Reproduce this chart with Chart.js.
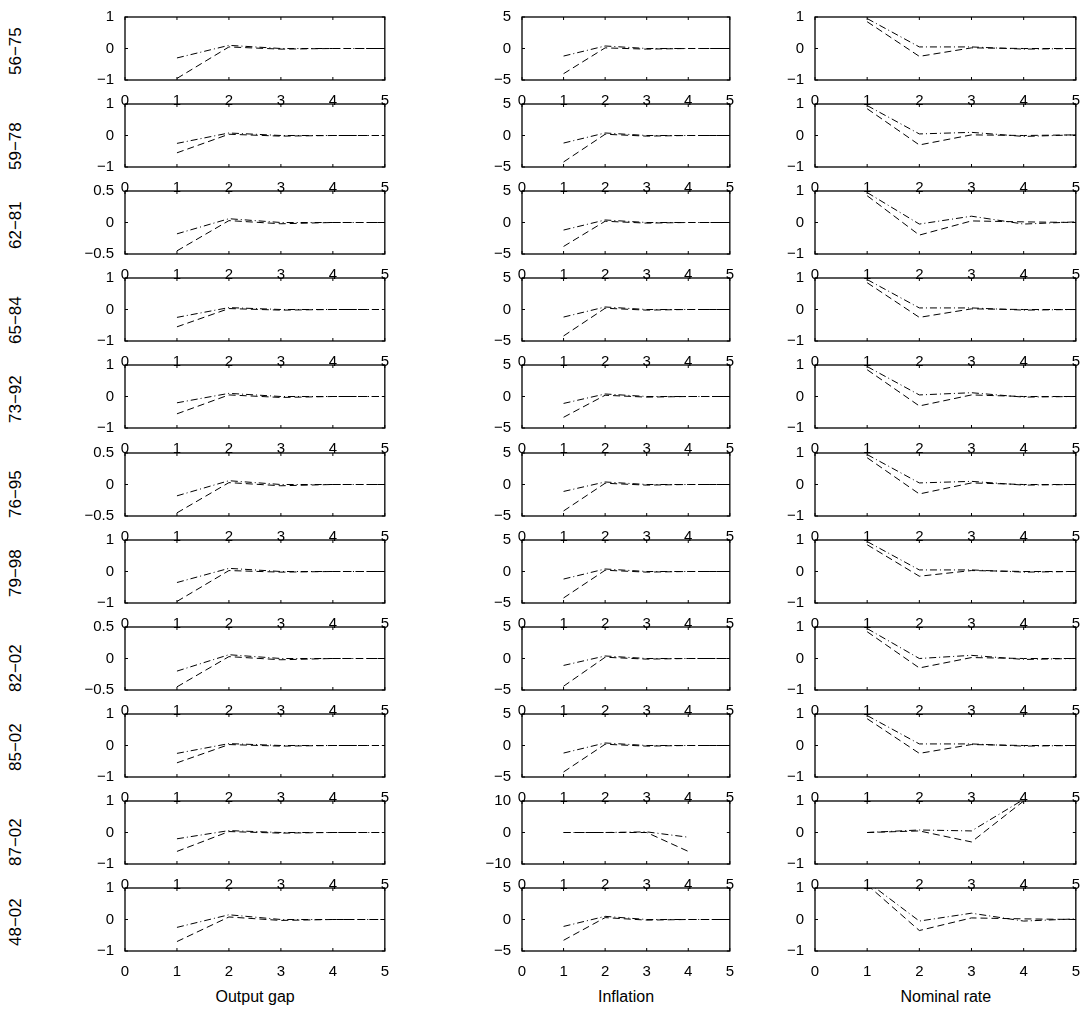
<!DOCTYPE html>
<html><head><meta charset="utf-8">
<script src="https://cdn.jsdelivr.net/npm/chart.js@4"></script>
<style>
body{margin:0;background:#fff;width:1086px;height:1028px;position:relative;overflow:hidden;font-family:"Liberation Sans",Arial,sans-serif}
canvas{position:absolute}
.rl{position:absolute;font-size:17px;transform:rotate(-90deg);transform-origin:left top;white-space:nowrap}
.ct{position:absolute;font-size:16px;top:988px}
</style></head><body>
<script>
const periods = ['56\u221275','59\u221278','62\u221281','65\u221284','73\u221292','76\u221295','79\u221298','82\u221202','85\u221202','87\u221202','48\u221202'];
const columns = ['Output gap','Inflation','Nominal rate'];
const xs = [1,2,3,4,5];
// y ranges per column per row
const yMax = [
  [1,1,0.5,1,1,0.5,1,0.5,1,1,1],
  [5,5,5,5,5,5,5,5,5,10,5],
  [1,1,1,1,1,1,1,1,1,1,1]
];
// series A (dash-dot) and B (dashed), values at x = 1..5
const gapA = [[-0.3,0.1,0,0,0],[-0.25,0.08,0,0,0],[-0.18,0.06,0,0,0],[-0.25,0.06,0,0,0],[-0.2,0.1,0,0,0],[-0.18,0.06,0,0,0],[-0.35,0.1,0,0,0],[-0.2,0.06,0,0,0],[-0.25,0.06,0,0,0],[-0.2,0.06,0,0,0],[-0.25,0.15,0,0,0]];
const gapB = [[-0.95,0.05,-0.02,0,0],[-0.55,0.04,-0.02,0,0],[-0.45,0.03,-0.02,0,0],[-0.55,0.03,-0.02,0,0],[-0.55,0.05,-0.03,0,0],[-0.45,0.03,-0.02,0,0],[-0.95,0.03,-0.02,0,0],[-0.45,0.03,-0.02,0,0],[-0.55,0.03,-0.02,0,0],[-0.6,0.03,-0.02,0,0],[-0.7,0.08,-0.03,0,0]];
const infA = [[-1.2,0.4,0,0,0],[-1.2,0.4,0,0,0],[-1.2,0.4,0,0,0],[-1.2,0.4,0,0,0],[-1.1,0.4,0,0,0],[-1.1,0.4,0,0,0],[-1.2,0.4,0,0,0],[-1.1,0.4,0,0,0],[-1.2,0.4,0,0,0],[0,0,0.2,-1.5,null],[-1.1,0.5,0,0,0]];
const infB = [[-4,0.1,-0.1,0,0],[-4.2,0.2,-0.1,0,0],[-3.8,0.2,-0.1,0,0],[-4.2,0.2,-0.1,0,0],[-3.3,0.2,-0.1,0,0],[-4.2,0.2,-0.1,0,0],[-4.2,0.2,-0.1,0,0],[-4.4,0.2,-0.1,0,0],[-4.2,0.2,-0.1,0,0],[0,0,0,-6,null],[-3.3,0.3,-0.1,0,0]];
const rateA = [[0.95,0.05,0.05,-0.02,0],[0.95,0.05,0.1,-0.03,0.02],[0.95,-0.05,0.2,-0.05,0.02],[0.95,0.05,0.05,-0.02,0],[0.95,0.05,0.12,-0.02,0],[0.95,0.05,0.1,-0.02,0],[0.95,0.05,0.05,-0.02,0],[0.95,0,0.1,-0.03,0],[0.95,0.05,0.05,-0.02,0],[0,0.08,0.05,1.05,null],[1.2,-0.05,0.2,-0.05,0.02]];
const rateB = [[0.85,-0.25,0.02,0,0],[0.85,-0.3,0.02,0,0.02],[0.85,-0.4,0.05,0.02,0],[0.85,-0.25,0.02,0,0],[0.85,-0.3,0.05,0,0],[0.85,-0.3,0.05,0,0],[0.85,-0.15,0.03,0,0],[0.85,-0.3,0.03,0,0],[0.85,-0.25,0.03,0,0],[0,0.05,-0.3,1,null],[1.1,-0.35,0.05,0.02,0]];
const seriesA = [gapA, infA, rateA];
const seriesB = [gapB, infB, rateB];

const colLeft = [125,522,815], colW = [260,208,261];
const rowTop0 = 17, rowPitch = 87.1, plotH = 63;
const yAxisW = 40, xAxisH = 28;

const frame = {
  id:'frame',
  afterDraw(c){
    const a=c.chartArea, ctx=c.ctx, xs=c.scales.x, ys=c.scales.y;
    ctx.save(); ctx.strokeStyle='#000'; ctx.lineWidth=1;
    ctx.beginPath();
    for(let v=0;v<=5;v++){const p=xs.getPixelForValue(v);ctx.moveTo(p,a.bottom);ctx.lineTo(p,a.bottom-3);ctx.moveTo(p,a.top);ctx.lineTo(p,a.top+3);}
    ys.ticks.forEach(t=>{const p=ys.getPixelForValue(t.value);ctx.moveTo(a.left,p);ctx.lineTo(a.left+3,p);ctx.moveTo(a.right,p);ctx.lineTo(a.right-3,p);});
    ctx.stroke();
    ctx.lineWidth=1.3; ctx.strokeRect(a.left,a.top,a.right-a.left,a.bottom-a.top);
    ctx.restore();
  }
};

function makeConfig(c,r){
  const m=yMax[c][r];
  return {
    type:'line',
    data:{datasets:[
      {data:xs.map((x,i)=>({x,y:seriesA[c][r][i]})),borderColor:'#000',borderWidth:1,borderDash:[7,3,1,3],pointRadius:0,fill:false,spanGaps:false},
      {data:xs.map((x,i)=>({x,y:seriesB[c][r][i]})),borderColor:'#000',borderWidth:1,borderDash:[7,4],pointRadius:0,fill:false,spanGaps:false}
    ]},
    options:{
      responsive:false,animation:false,devicePixelRatio:1,
      layout:{padding:{top:0,right:8,bottom:2,left:0}},
      plugins:{legend:{display:false},tooltip:{enabled:false}},
      scales:{
        x:{type:'linear',min:0,max:5,grid:{display:false},border:{display:false},
           afterFit(s){s.height=xAxisH;},
           ticks:{stepSize:1,color:'#000',font:{family:'Liberation Sans',size:15},padding:4,maxRotation:0}},
        y:{min:-m,max:m,grid:{display:false},border:{display:false},
           afterFit(s){s.width=yAxisW;},
           afterBuildTicks(s){s.ticks=[{value:-m},{value:0},{value:m}];},
           ticks:{color:'#000',font:{family:'Liberation Sans',size:15},padding:3,
             callback:v=>(v<0?'\u2212':'')+Math.abs(v)}}
      }
    },
    plugins:[frame]
  };
}

periods.forEach((p,r)=>{
  const top = rowTop0 + r*rowPitch;
  const lab = document.createElement('div');
  lab.className='rl'; lab.textContent=p;
  lab.style.left='6px'; lab.style.top=(top+plotH/2+26+(r%2?8:0))+'px';
  document.body.appendChild(lab);
  for(let c=0;c<3;c++){
    const w=colW[c]+yAxisW+8, h0=plotH+xAxisH+2;
    // trial render to measure the space taken outside the plot area
    const tc=document.createElement('canvas');
    tc.width=w; tc.height=h0; tc.style.width=w+'px'; tc.style.height=h0+'px';
    document.body.appendChild(tc);
    const t=new Chart(tc,makeConfig(c,r));
    const off=t.chartArea.top, extra=h0-(t.chartArea.bottom-t.chartArea.top);
    t.destroy(); tc.remove();
    const h=plotH+extra;
    const cv=document.createElement('canvas');
    cv.width=w; cv.height=h; cv.style.width=w+'px'; cv.style.height=h+'px';
    cv.style.left=(colLeft[c]-yAxisW)+'px';
    cv.style.top=(top-off)+'px';
    document.body.appendChild(cv);
    new Chart(cv,makeConfig(c,r));
  }
});
const ctx=[255,626,946];
columns.forEach((t,i)=>{const d=document.createElement('div');d.className='ct';d.textContent=t;document.body.appendChild(d);d.style.left=(ctx[i]-d.offsetWidth/2)+'px';});
</script>
</body></html>
